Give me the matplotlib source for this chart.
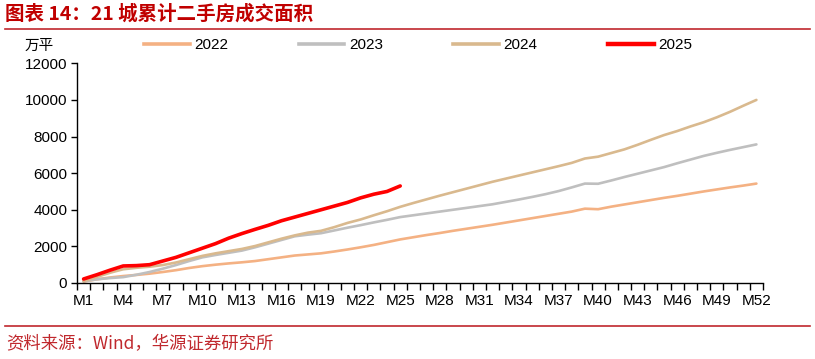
import matplotlib
matplotlib.use("Agg")
import matplotlib.pyplot as plt
from matplotlib.lines import Line2D
import numpy as np

weeks = [f"M{i}" for i in range(1, 53)]

s2022 = [80, 200, 300, 380, 440, 510, 600, 700, 820, 920, 1000, 1070, 1130, 1200, 1300, 1400,
         1500, 1560, 1620, 1720, 1830, 1950, 2080, 2230, 2380, 2500, 2620, 2730, 2850, 2960,
         3070, 3180, 3300, 3420, 3540, 3660, 3780, 3900, 4060, 4030, 4170, 4290, 4410, 4530,
         4650, 4760, 4880, 5000, 5110, 5220, 5320, 5430]
s2023 = [100, 200, 270, 320, 450, 600, 780, 980, 1200, 1400, 1530, 1650, 1770, 1950, 2150, 2350,
         2550, 2640, 2720, 2870, 3020, 3160, 3310, 3450, 3600, 3700, 3800, 3900, 4000, 4100,
         4200, 4300, 4430, 4560, 4700, 4850, 5020, 5220, 5430, 5420, 5600, 5790, 5970, 6150,
         6330, 6540, 6740, 6940, 7110, 7270, 7420, 7570]
s2024 = [100, 330, 560, 750, 830, 890, 980, 1120, 1300, 1480, 1620, 1740, 1860, 2020, 2220, 2420,
         2600, 2750, 2850, 3050, 3280, 3470, 3700, 3920, 4160, 4370, 4570, 4770, 4960, 5150,
         5340, 5530, 5700, 5870, 6040, 6210, 6380, 6560, 6800, 6900, 7100, 7300, 7550, 7820,
         8080, 8300, 8550, 8780, 9050, 9350, 9680, 10000]
s2025 = [220, 450, 700, 930, 950, 1000, 1200, 1400, 1650, 1900, 2150, 2450, 2700, 2930, 3150,
         3400, 3600, 3800, 4000, 4200, 4400, 4650, 4850, 5000, 5300]

series = [("2022", s2022, "#F4B183", 1.9),
          ("2023", s2023, "#BFBFBF", 1.9),
          ("2024", s2024, "#D9B98E", 1.9),
          ("2025", s2025, "#FF0000", 2.6)]

plt.rcParams['font.family'] = ['Liberation Sans', 'Noto Sans CJK SC', 'DejaVu Sans']

fig = plt.figure(figsize=(8.15, 3.59), dpi=100)
ax = fig.add_axes([77/815, 1-283/359, (763-77)/815, (283-63.3)/359])

for name, vals, col, lw in series:
    ax.plot(np.arange(len(vals)), vals, color=col, lw=lw, label=name, solid_capstyle='round')

ax.set_xlim(-0.5, 51.5)
ax.set_ylim(0, 12000)
ax.set_yticks(range(0, 12001, 2000))
ax.set_xticks(np.arange(0, 52, 3))
ax.set_xticklabels(weeks[::3])
ax.set_xticks(np.arange(-0.5, 52, 1), minor=True)
ax.tick_params(axis='x', which='major', length=0, pad=8, labelsize=11)
ax.tick_params(axis='x', which='minor', length=5, width=1, direction='out')
ax.tick_params(axis='y', length=4, width=1, labelsize=11, pad=3)
for sp in ['top', 'right']:
    ax.spines[sp].set_visible(False)
for sp in ['left', 'bottom']:
    ax.spines[sp].set_linewidth(1.0)
    ax.spines[sp].set_color('black')

handles = [Line2D([0], [0], color=c, lw=(3.2 if n == "2025" else 2.6)) for n, v, c, lw in series]
fig.legend(handles, [s[0] for s in series], loc='center', bbox_to_anchor=(0.513, 1-45/359),
           ncol=4, frameon=False, fontsize=11, handlelength=3.0, columnspacing=4.6,
           handletextpad=0.3)

fig.text(25/815, 1-46/359, "万平", fontsize=10.5, family=['Noto Sans CJK SC'], va='center', ha='left')

red = "#C00000"
fig.text(5/815, 1-14/359, "图表 14：21 城累计二手房成交面积", fontsize=14, fontweight='bold',
         color=red, family=['Noto Sans CJK SC', 'DejaVu Sans'], va='center', ha='left')
fig.add_artist(Line2D([5/815, 810/815], [1-29/359, 1-29/359], color="#C0282D", lw=1.2))
fig.add_artist(Line2D([5/815, 810/815], [1-326/359, 1-326/359], color="#C0282D", lw=1.2))
fig.text(6/815, 1-344/359, "资料来源：Wind，华源证券研究所", fontsize=12.5, color="#C0282D",
         family=['Noto Sans CJK SC', 'DejaVu Sans'], va='center', ha='left')

fig.savefig("out.png", dpi=100)
